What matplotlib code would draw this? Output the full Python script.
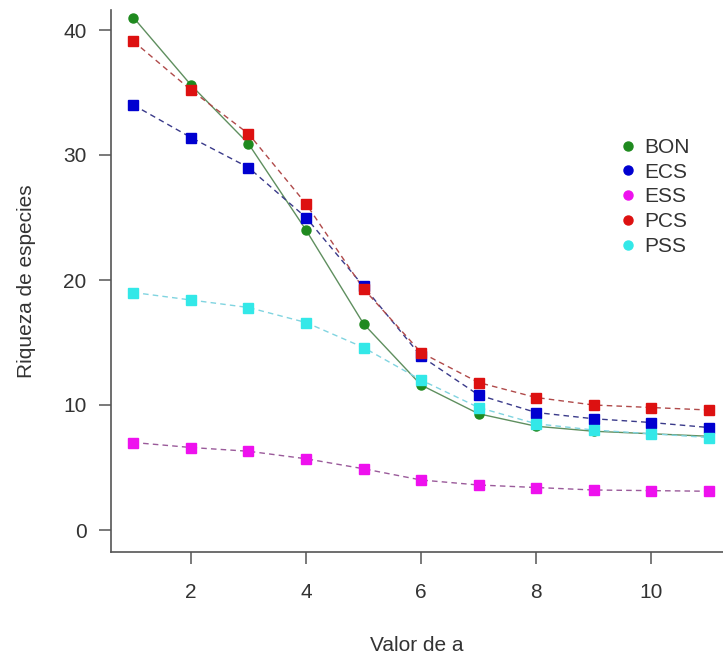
import matplotlib.pyplot as plt

plt.rcParams['font.family'] = ['Liberation Sans', 'DejaVu Sans']

# data
a_vals = [1, 2, 3, 4, 5, 6, 7, 8, 9, 10, 11]
bon = [41.0, 35.6, 30.9, 24.0, 16.5, 11.6, 9.3, 8.3, 7.9, 7.7, 7.5]
ecs = [34.0, 31.4, 29.0, 25.0, 19.5, 13.9, 10.8, 9.4, 8.9, 8.6, 8.2]
ess = [7.0, 6.6, 6.3, 5.7, 4.9, 4.0, 3.6, 3.4, 3.2, 3.15, 3.1]
pcs = [39.1, 35.2, 31.7, 26.1, 19.3, 14.2, 11.8, 10.6, 10.0, 9.8, 9.6]
pss = [19.0, 18.4, 17.8, 16.6, 14.6, 12.0, 9.8, 8.5, 8.0, 7.7, 7.4]

series = [
    ("BON", bon, "#1f8a1f", "#5f8f5f", "o", "-"),
    ("ECS", ecs, "#0000d0", "#3a3a8a", "s", "--"),
    ("ESS", ess, "#ee11ee", "#9a5a9a", "s", "--"),
    ("PCS", pcs, "#dd1111", "#b04a4a", "s", "--"),
    ("PSS", pss, "#33e8e8", "#80d4e0", "s", "--"),
]

fig = plt.figure(figsize=(7.23, 6.55), dpi=100)
ax = fig.add_axes([111 / 723, 103 / 655, 612 / 723, 542 / 655])

for name, vals, mcol, lcol, mk, ls in series:
    ax.plot(a_vals, vals, color=lcol, lw=1.0, ls=ls, dashes=(4, 3) if ls == "--" else (None, None),
            zorder=2)
    ax.plot(a_vals, vals, ls='none', marker=mk, ms=7.5 if mk == 's' else 6.5,
            mfc=mcol, mec=mcol, zorder=3)

# legend handles: dots only
handles = [plt.Line2D([], [], ls='none', marker='o', ms=6.5, mfc=s[2], mec=s[2]) for s in series]
fig.legend(handles, [s[0] for s in series], loc='center left',
           bbox_to_anchor=(602 / 723, 1 - 197 / 655), frameon=False,
           fontsize=15, handlelength=0.7, handletextpad=0.45, labelspacing=0.28,
           labelcolor='#333333')

ax.set_xlim(0.61, 11.25)
ax.set_ylim(-1.76, 41.6)
ax.set_xticks([2, 4, 6, 8, 10])
ax.set_yticks([0, 10, 20, 30, 40])

for side in ['top', 'right']:
    ax.spines[side].set_visible(False)
for side in ['left', 'bottom']:
    ax.spines[side].set_color('#555555')
    ax.spines[side].set_linewidth(1.2)

ax.tick_params(direction='out', length=8.5, width=1.1, color='#555555',
               labelsize=15, labelcolor='#333333', pad=9)
ax.tick_params(axis='x', pad=14)

ax.set_xlabel("Valor de a", fontsize=15, color='#333333', labelpad=24)
ax.set_ylabel("Riqueza de especies", fontsize=15, color='#333333', labelpad=20)

fig.savefig("out.png", dpi=100)
